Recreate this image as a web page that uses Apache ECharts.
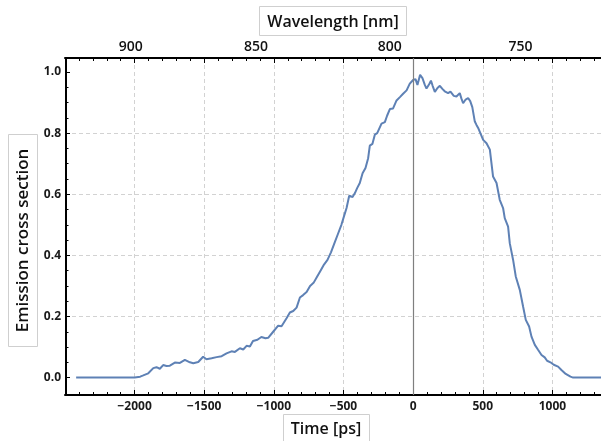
<!DOCTYPE html>
<html>
<head>
<meta charset="utf-8">
<style>
  html, body { margin: 0; padding: 0; background: #fff; }
  #chart { width: 601px; height: 441px; }
</style>
<script src="https://cdn.jsdelivr.net/npm/echarts@6/dist/echarts.min.js"></script>
</head>
<body>
<div id="chart"></div>
<script>
// Delay time of the chirped pulse (ps)
const timePs = [
  -2420, -2000, -1960, -1938, -1902, -1866, -1843, -1819, -1795, -1771, -1747,
  -1711, -1675, -1639, -1603, -1579, -1543, -1508, -1484, -1447, -1411, -1375,
  -1340, -1304, -1280, -1244, -1220, -1196, -1172, -1150, -1118, -1090, -1060,
  -1041, -1005, -969, -945, -933, -909, -885, -861, -837, -813, -790, -765,
  -740, -715, -690, -665, -640, -615, -590, -565, -540, -515, -495, -478,
  -459, -435, -418, -402, -383, -363, -342, -323, -311, -292, -275, -258,
  -244, -227, -203, -187, -167, -144, -119, -95, -72, -47, -24, 0, 17, 31,
  50, 67, 84, 96, 115, 128, 140, 156, 175, 192, 210, 227, 251, 268, 292,
  311, 335, 347, 359, 377, 395, 410, 425, 443, 455, 467, 479, 503, 527,
  551, 574, 599, 622, 646, 658, 682, 694, 718, 737, 766, 790, 809, 833,
  850, 874, 897, 922, 945, 962, 975, 986, 1000, 1010, 1017, 1041, 1065,
  1096, 1130, 1149, 1350
];

// Normalised emission cross section
const emission = [
  0, 0, 0.003, 0.007, 0.014, 0.031, 0.034, 0.029, 0.041, 0.038, 0.039,
  0.049, 0.048, 0.058, 0.050, 0.047, 0.051, 0.068, 0.060, 0.063, 0.067, 0.070,
  0.079, 0.086, 0.084, 0.096, 0.092, 0.104, 0.102, 0.120, 0.124, 0.133, 0.129,
  0.130, 0.150, 0.170, 0.168, 0.170, 0.194, 0.213, 0.218, 0.229, 0.262, 0.270, 0.280,
  0.300, 0.310, 0.330, 0.350, 0.370, 0.385, 0.410, 0.440, 0.470, 0.500, 0.530, 0.555,
  0.595, 0.591, 0.604, 0.620, 0.637, 0.669, 0.686, 0.718, 0.759, 0.765, 0.795, 0.800,
  0.795, 0.831, 0.836, 0.857, 0.879, 0.881, 0.907, 0.918, 0.929, 0.940, 0.962, 0.974, 0.977, 0.958,
  0.991, 0.980, 0.958, 0.946, 0.960, 0.972, 0.955, 0.935, 0.948, 0.955, 0.945, 0.937, 0.931, 0.936, 0.922,
  0.920, 0.931, 0.913, 0.898, 0.910, 0.915, 0.905, 0.885, 0.838, 0.827, 0.817, 0.811, 0.778, 0.767,
  0.746, 0.658, 0.637, 0.582, 0.555, 0.522, 0.494, 0.440, 0.385, 0.331, 0.287, 0.232, 0.189, 0.167,
  0.134, 0.107, 0.091, 0.074, 0.066, 0.055, 0.057, 0.050, 0.048, 0.042, 0.039, 0.036, 0.025,
  0.012, 0.003, 0, 0
];

// Wavelength labels of the top axis and the delay each one sits at
const wavelengthLabels = [900, 850, 800, 750];
const wavelengthAtTime = [-2027, -1129, -167, 771];

// Left axis tick values
const yMajorTicks = [0, 0.2, 0.4, 0.6, 0.8, 1.0];
const yMinorTicks = [0.05, 0.1, 0.15, 0.25, 0.3, 0.35, 0.45, 0.5, 0.55,
                     0.65, 0.7, 0.75, 0.85, 0.9, 0.95];

const FONT = '"Open Sans", "Noto Sans", sans-serif';
const gridDash = { color: '#d2d2d2', width: 1, type: [4, 3] };
const frameLine = { show: true, onZero: false, lineStyle: { color: '#000', width: 2 } };

const chart = echarts.init(document.getElementById('chart'), null, { renderer: 'canvas' });

chart.setOption({
  animation: false,
  backgroundColor: '#fff',
  grid: { left: 65, top: 58, width: 557, height: 337, containLabel: false, outerBoundsMode: 'none' },
  xAxis: [
    {
      type: 'value', position: 'bottom', min: -2500, max: 1500, interval: 500,
      axisLine: frameLine,
      axisTick: { inside: true, length: 5, lineStyle: { color: '#000', width: 1 } },
      minorTick: { show: true, splitNumber: 5, length: 3, lineStyle: { color: '#000', width: 1 } },
      axisLabel: {
        margin: 6, showMinLabel: false, color: '#1a1a1a',
        fontFamily: FONT, fontSize: 12, fontWeight: 'bold',
        formatter: v => String(v).replace('-', '\u2212')
      },
      splitLine: { show: true, showMinLine: false, lineStyle: gridDash }
    },
    {
      type: 'value', position: 'top', min: -2500, max: 1500, interval: 500,
      axisLine: frameLine,
      axisTick: { inside: true, length: 5, lineStyle: { color: '#000', width: 1 } },
      minorTick: { show: true, splitNumber: 5, length: 3, lineStyle: { color: '#000', width: 1 } },
      axisLabel: {
        margin: 4, color: '#111', fontFamily: FONT, fontSize: 14, fontWeight: 600,
        customValues: wavelengthAtTime,
        formatter: v => {
          const i = wavelengthAtTime.indexOf(v);
          return i >= 0 ? String(wavelengthLabels[i]) : '';
        }
      },
      splitLine: { show: false }
    }
  ],
  yAxis: [
    {
      type: 'value', position: 'left', min: -0.057, max: 1.046, splitNumber: 5, offset: -1,
      axisLine: frameLine,
      axisTick: { inside: true, length: 4, customValues: yMajorTicks, lineStyle: { color: '#000', width: 1 } },
      axisLabel: {
        margin: 5, color: '#1a1a1a', fontFamily: FONT, fontSize: 12, fontWeight: 'bold',
        customValues: yMajorTicks, formatter: v => v.toFixed(1)
      },
      splitLine: { show: true, showMinLine: false, showMaxLine: false, lineStyle: gridDash }
    },
    {
      type: 'value', position: 'left', min: -0.057, max: 1.046, offset: -1,
      axisLine: { show: false, onZero: false },
      axisTick: { inside: true, length: 2.5, customValues: yMinorTicks, lineStyle: { color: '#000', width: 1 } },
      axisLabel: { show: false },
      splitLine: { show: false }
    }
  ],
  graphic: [
    {
      type: 'group', silent: true,
      children: [
        { type: 'rect', shape: { x: 259.5, y: 6.5, width: 147, height: 29 },
          style: { fill: '#fff', stroke: '#cfcfcf', lineWidth: 1 } },
        { type: 'text', x: 333, y: 22,
          style: { text: 'Wavelength [nm]', font: '600 16px ' + FONT, fill: '#111',
                   textAlign: 'center', textVerticalAlign: 'middle' } }
      ]
    },
    {
      type: 'group', silent: true,
      children: [
        { type: 'rect', shape: { x: 283.5, y: 414.5, width: 86, height: 32 },
          style: { fill: '#fff', stroke: '#cfcfcf', lineWidth: 1 } },
        { type: 'text', x: 326, y: 429,
          style: { text: 'Time [ps]', font: '600 16px ' + FONT, fill: '#111',
                   textAlign: 'center', textVerticalAlign: 'middle' } }
      ]
    },
    {
      type: 'group', silent: true,
      children: [
        { type: 'rect', shape: { x: 8.5, y: 134.5, width: 29, height: 212 },
          style: { fill: '#fff', stroke: '#cfcfcf', lineWidth: 1 } },
        { type: 'text', x: 23, y: 240.5, rotation: Math.PI / 2,
          style: { text: 'Emission cross section', font: '600 17px ' + FONT, fill: '#111',
                   textAlign: 'center', textVerticalAlign: 'middle' } }
      ]
    }
  ],
  series: [
    {
      type: 'line',
      xAxisIndex: 0, yAxisIndex: 0,
      data: timePs.map((t, i) => [t, emission[i]]),
      showSymbol: false, smooth: false,
      lineStyle: { color: '#5e81b5', width: 2 },
      markLine: {
        silent: true, symbol: ['none', 'none'], label: { show: false },
        lineStyle: { color: '#7f7f7f', width: 1.2, type: 'solid' },
        data: [{ xAxis: 0 }]
      },
      z: 3
    }
  ]
});
</script>
</body>
</html>
